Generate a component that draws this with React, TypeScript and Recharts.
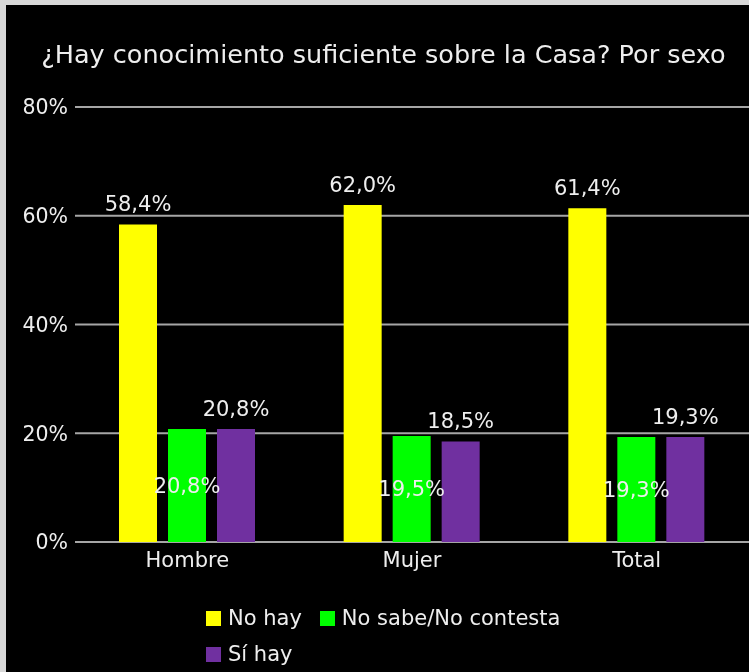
import { BarChart, Bar, XAxis, YAxis, CartesianGrid, LabelList, Legend } from "recharts";

const categories = ["Hombre", "Mujer", "Total"];
const noHay = [58.4, 62.0, 61.4];
const noSabe = [20.8, 19.5, 19.3];
const siHay = [20.8, 18.5, 19.3];
const yTicks = [0, 20, 40, 60, 80];

const seriesNames = ["No hay", "No sabe/No contesta", "Sí hay"];
const seriesColors = ["#ffff00", "#00ff00", "#7030a0"];

const FONT = "'DejaVu Sans', sans-serif";
const TEXT = "#eeeeee";

const data = categories.map((name, i) => ({
  name,
  noHay: noHay[i],
  noSabe: noSabe[i],
  siHay: siHay[i],
}));

const fmt = (v: any) => `${Number(v).toFixed(1).replace(".", ",")}%`;

function LegendBox() {
  const item = (i: number) => (
    <span style={{ display: "inline-flex", alignItems: "center" }}>
      <span style={{ width: 15, height: 15, background: seriesColors[i], display: "inline-block", marginRight: 7 }} />
      <span>{seriesNames[i]}</span>
    </span>
  );
  return (
    <div style={{ fontFamily: FONT, fontSize: 21, color: TEXT, lineHeight: "35px" }}>
      <div>
        {item(0)}
        <span style={{ display: "inline-block", width: 18 }} />
        {item(1)}
      </div>
      <div>{item(2)}</div>
    </div>
  );
}

export default function App() {
  return (
    <div style={{ position: "fixed", left: 0, top: 0, width: 749, height: 672, background: "#d8d8d8" }}>
      <div style={{ position: "absolute", left: 6, top: 5, width: 743, height: 667, background: "#000" }}>
        <div
          style={{
            position: "absolute",
            left: 0,
            top: 34,
            width: 755,
            textAlign: "center",
            fontFamily: FONT,
            fontSize: 25.5,
            color: TEXT,
            whiteSpace: "nowrap",
          }}
        >
          ¿Hay conocimiento suficiente sobre la Casa? Por sexo
        </div>
        <BarChart
          width={743}
          height={667}
          data={data}
          margin={{ top: 102, right: 0, left: 0, bottom: 100 }}
          barSize={38}
          barGap={11}
        >
          <CartesianGrid vertical={false} stroke="#a6a6a6" strokeWidth={2} />
          <XAxis
            dataKey="name"
            axisLine={false}
            tickLine={false}
            tickSize={0}
            tickMargin={10}
            height={30}
            tick={{ fill: TEXT, fontSize: 21, fontFamily: FONT }}
          />
          <YAxis
            domain={[0, 80]}
            ticks={yTicks}
            tickFormatter={(v) => `${v}%`}
            axisLine={false}
            tickLine={false}
            tickSize={0}
            tickMargin={7}
            width={69}
            tick={{ fill: TEXT, fontSize: 20.5, fontFamily: FONT }}
          />
          <Legend
            layout="horizontal"
            verticalAlign="middle"
            align="center"
            wrapperStyle={{ top: 596, left: 200, width: 420 }}
            content={() => <LegendBox />}
          />
          <Bar dataKey="noHay" name={seriesNames[0]} fill={seriesColors[0]} isAnimationActive={false}>
            <LabelList dataKey="noHay" position="top" offset={13} formatter={fmt} fill={TEXT} fontSize={21} fontFamily={FONT} />
          </Bar>
          <Bar dataKey="noSabe" name={seriesNames[1]} fill={seriesColors[1]} isAnimationActive={false}>
            <LabelList dataKey="noSabe" position="center" formatter={fmt} fill={TEXT} fontSize={21} fontFamily={FONT} />
          </Bar>
          <Bar dataKey="siHay" name={seriesNames[2]} fill={seriesColors[2]} isAnimationActive={false}>
            <LabelList dataKey="siHay" position="top" offset={13} formatter={fmt} fill={TEXT} fontSize={21} fontFamily={FONT} />
          </Bar>
        </BarChart>
      </div>
    </div>
  );
}
